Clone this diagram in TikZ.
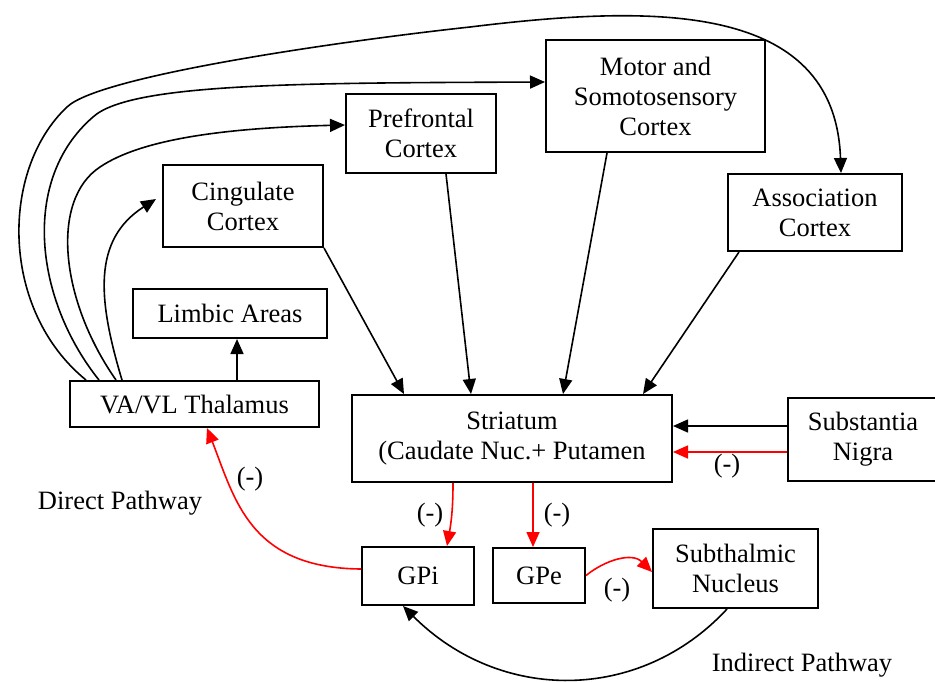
\documentclass[tikz,border=0pt]{standalone}
\usepackage{fontspec}
\setmainfont{Liberation Serif}
\usetikzlibrary{arrows.meta,positioning}
\tikzset{
  box/.style ={draw=black,line width=1pt,fill=white,align=center,font=\fontsize{13.25}{15}\selectfont,inner sep=0pt},
  lbl/.style ={font=\fontsize{13.25}{15}\selectfont,inner sep=0pt},
  arr/.style ={-{Triangle[length=7.5pt,width=6.5pt]},line width=.8pt,black},
  inh/.style ={-{Triangle[length=7.5pt,width=6.5pt]},line width=.8pt,red},
}
\begin{document}
\begin{tikzpicture}[x=0.5pt,y=-0.5pt]
\clip (0,0) rectangle (935,681);
% ===== cortex (top) =====
\node[box,minimum width=80pt,minimum height=41pt] (cing) at (243,206) {Cingulate\\Cortex};
\node[box,minimum width=75pt,minimum height=39.5pt] (pref) at (421,133.5) {Prefrontal\\Cortex};
\node[box,minimum width=109.5pt,minimum height=56pt] (motor) at (655.5,96) {Motor and\\Somotosensory\\Cortex};
\node[box,minimum width=87pt,minimum height=38.5pt] (assoc) at (815,212.5) {Association\\Cortex};

% ===== thalamus + limbic (left) =====
\node[box,minimum width=97pt,minimum height=24.5pt] (limbic) at (230,313.5) {Limbic Areas};
\node[box,minimum width=124.5pt,minimum height=23pt] (thal) at (194.5,404) {VA/VL Thalamus};
\draw[arr] ([xshift=3.5pt]limbic.south |- thal.north) -- ([xshift=3.5pt]limbic.south);

% ===== striatum + nigra =====
\node[box,minimum width=160pt,minimum height=43.5pt] (stri) at (512,438.5) {Striatum\\(Caudate Nuc.+ Putamen};
\node[box,minimum width=80pt,minimum height=41.5pt] (sn) at (868,439.5) {\hspace*{-5pt}Substantia\\\hspace*{-5pt}Nigra};
\draw[arr] ([yshift=6.75pt]sn.west) -- ([yshift=6.75pt]sn.west -| stri.east);
\draw[inh] ([yshift=-6.25pt]sn.west) -- ([yshift=-6.25pt]sn.west -| stri.east);
\node[lbl] (m1) at (727,466) {(-)};

% cortex -> striatum
\draw[arr] (cing.south east) -- ([xshift=26.5pt]stri.north west);
\draw[arr] ([xshift=12.5pt]pref.south) -- ([xshift=-20.5pt]stri.north);
\draw[arr] ([xshift=-24.25pt]motor.south) -- ([xshift=25.5pt]stri.north);
\draw[arr] ([xshift=6pt]assoc.south west) -- ([xshift=65.5pt]stri.north);

% thalamus -> cortex loops
\draw[arr] ([xshift=26.5pt]thal.north west) .. controls (98,300) and (92,240) .. ([xshift=-3pt,yshift=3.5pt]cing.west);
\draw[arr] ([xshift=23.5pt]thal.north west) .. controls (60,300) and (50,200) .. (100,167)
  .. controls (140,140) and (220,128) .. ([yshift=4.25pt]pref.west);
\draw[arr] ([xshift=15pt]thal.north west) .. controls (35,300) and (20,180) .. (93,117)
  .. controls (130,83) and (300,83) .. ([yshift=7pt]motor.west);
\draw[arr] ([xshift=8.5pt]thal.north west) .. controls (0,310) and (0,170) .. (67,107)
  .. controls (100,75) and (350,40) .. (470,27)
  .. controls (650,5) and (835,0) .. ([xshift=13pt]assoc.north);

% ===== basal ganglia (bottom) =====
\node[box,minimum width=56pt,minimum height=29pt] (gpi) at (418,576) {GPi};
\node[box,minimum width=46pt,minimum height=27.5pt] (gpe) at (539,575.5) {GPe};
\node[box,minimum width=82.5pt,minimum height=39.5pt] (stn) at (735.5,568.5) {Subthalmic\\Nucleus};

\draw[inh] ([xshift=-29.5pt]stri.south) to[out=-90,in=80] ([xshift=14.5pt]gpi.north);
\draw[inh] ([xshift=-3pt]gpe.north |- stri.south) -- ([xshift=-3pt]gpe.north);
\draw[inh] (gpe.east) .. controls (605,560) and (632,552) .. ([yshift=-1.75pt]stn.west);
\draw[inh] ([yshift=3.5pt]gpi.west) .. controls (250,568) and (235,500) .. ([xshift=6.25pt]thal.south);
\draw[arr] ([xshift=-4.25pt]stn.south) .. controls (640,703) and (500,703) .. ([xshift=-7.5pt]gpi.south);

\node[lbl] (m2) at (430,515) {(-)};
\node[lbl] (m3) at (557,515) {(-)};
\node[lbl] (m4) at (617,590) {(-)};
\node[lbl] (m5) at (250,479) {(-)};
\node[lbl] (dp) at (120,503) {Direct Pathway};
\node[lbl] (ip) at (802,665) {Indirect Pathway};
\end{tikzpicture}
\end{document}
